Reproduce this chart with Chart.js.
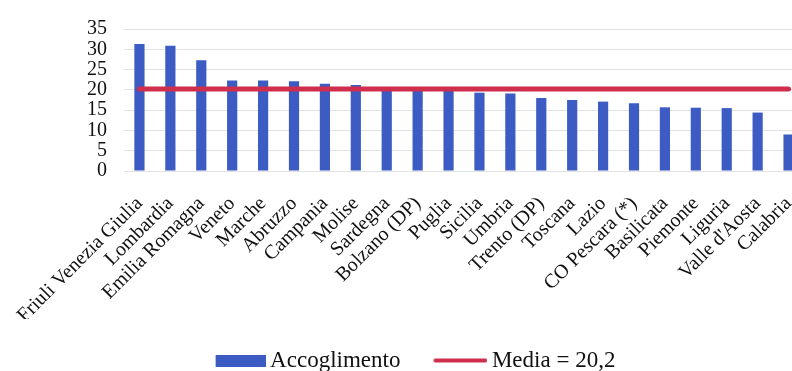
<!DOCTYPE html>
<html>
<head>
<meta charset="utf-8">
<script src="https://cdn.jsdelivr.net/npm/chart.js@4"></script>
<style>
  html, body { margin: 0; padding: 0; background: #fff; overflow: hidden; }
  #wrap { position: relative; width: 832px; height: 382px; }
</style>
</head>
<body>
<div id="wrap"><canvas id="chart"></canvas></div>
<script>
const regions = [
  "Friuli Venezia Giulia", "Lombardia", "Emilia Romagna", "Veneto", "Marche",
  "Abruzzo", "Campania", "Molise", "Sardegna", "Bolzano (DP)", "Puglia",
  "Sicilia", "Umbria", "Trento (DP)", "Toscana", "Lazio", "CO Pescara (*)",
  "Basilicata", "Piemonte", "Liguria", "Valle d'Aosta", "Calabria"
];
const accoglimento = [
  31.3, 30.9, 27.3, 22.3, 22.3, 22.1, 21.5, 21.2, 20.0, 19.9, 19.9,
  19.3, 19.1, 18.0, 17.5, 17.1, 16.7, 15.7, 15.6, 15.5, 14.4, 9.0
];
const media = 20.2;
const yMax = 35;
const yStep = 5;

const serif = "'Liberation Serif', 'Times New Roman', serif";
const barColor = "#3c5bc3";
const lineColor = "#cf2f4d";

// legend swatches: the shape sits at the right end of the image so it hugs the text
function swatch(width, height, draw) {
  const c = document.createElement("canvas");
  c.width = width;
  c.height = height;
  draw(c.getContext("2d"));
  return c;
}
const barSwatch = swatch(64, 12, (ctx) => {
  ctx.fillStyle = barColor;
  ctx.fillRect(14, 0, 50, 12);
});
const lineSwatch = swatch(64, 6, (ctx) => {
  ctx.strokeStyle = lineColor;
  ctx.lineWidth = 4;
  ctx.lineCap = "round";
  ctx.beginPath();
  ctx.moveTo(12, 3);
  ctx.lineTo(62, 3);
  ctx.stroke();
});

new Chart(document.getElementById("chart"), {
  data: {
    labels: regions,
    datasets: [
      {
        type: "line",
        label: "Media = 20,2",
        data: regions.map(() => media),
        borderColor: lineColor,
        backgroundColor: lineColor,
        borderWidth: 5,
        borderCapStyle: "round",
        pointRadius: 0,
        order: 0
      },
      {
        type: "bar",
        label: "Accoglimento",
        data: accoglimento,
        backgroundColor: barColor,
        barPercentage: 0.66,
        categoryPercentage: 0.5,
        order: 1
      }
    ]
  },
  options: {
    responsive: true,
    maintainAspectRatio: false,
    animation: false,
    layout: { padding: { left: 20, right: 28, top: 23.5, bottom: 0 } },
    scales: {
      x: {
        offset: true,
        grid: { display: false },
        border: { display: false },
        ticks: {
          autoSkip: false,
          minRotation: 45,
          maxRotation: 45,
          padding: 13,
          color: "#111",
          font: { family: serif, size: 20 }
        },
        afterFit: (scale) => { scale.height = 148; }
      },
      y: {
        min: 0,
        max: yMax,
        grid: { color: "#e2e2e2", drawTicks: false },
        border: { display: false },
        ticks: {
          stepSize: yStep,
          autoSkip: false,
          padding: 17,
          color: "#111",
          font: { family: serif, size: 20 }
        },
        afterFit: (scale) => { scale.width = 104; }
      }
    },
    plugins: {
      tooltip: { enabled: false },
      legend: {
        position: "bottom",
        reverse: true,
        labels: {
          usePointStyle: true,
          pointStyleWidth: 50,
          boxHeight: 12,
          padding: 30,
          color: "#111",
          font: { family: serif, size: 23 },
          generateLabels: (chart) => {
            const items = Chart.defaults.plugins.legend.labels.generateLabels(chart);
            items.forEach((item) => {
              item.pointStyle = item.datasetIndex === 0 ? lineSwatch : barSwatch;
              item.lineWidth = 0;
            });
            return items;
          }
        }
      }
    }
  }
});
</script>
</body>
</html>
